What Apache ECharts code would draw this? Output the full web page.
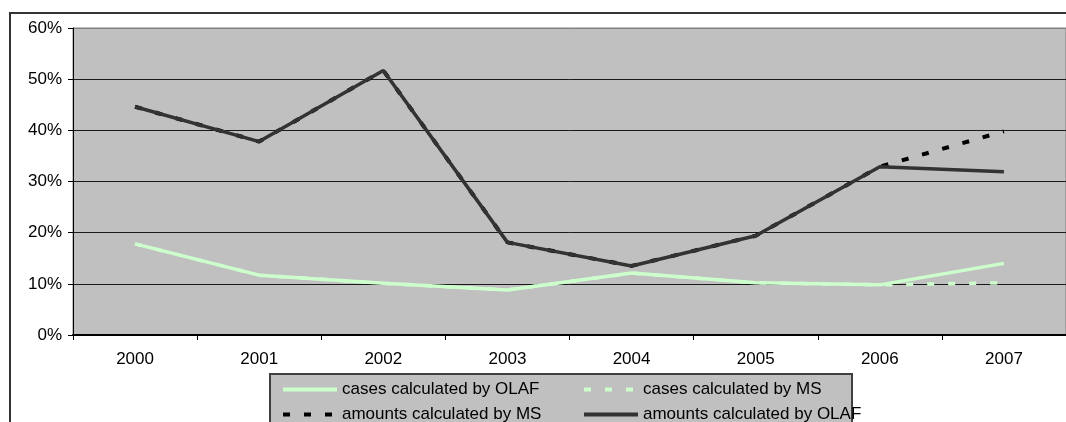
<!DOCTYPE html>
<html>
<head>
<meta charset="utf-8">
<script src="https://cdn.jsdelivr.net/npm/echarts@6/dist/echarts.min.js"></script>
<style>
  html, body { margin: 0; padding: 0; background: #fff; }
  #chart { width: 1066px; height: 422px; }
</style>
</head>
<body>
<div id="chart"></div>
<script>
const years = ['2000', '2001', '2002', '2003', '2004', '2005', '2006', '2007']
const casesOlaf = [17.8, 11.7, 10.1, 8.8, 12.1, 10.2, 9.8, 14.0]
const casesMs = [17.8, 11.7, 10.1, 8.8, 12.1, 10.2, 9.8, 10.2]
const amountsMs = [44.6, 37.8, 51.7, 18.1, 13.5, 19.4, 32.9, 39.8]
const amountsOlaf = [44.6, 37.8, 51.7, 18.1, 13.5, 19.4, 32.9, 31.9]

const font = "'Liberation Sans', Arial, sans-serif"
const chart = echarts.init(document.getElementById('chart'))

// two columns of the legend, laid out like the Excel legend table
const legendBase = {
  orient: 'vertical',
  top: 376,
  height: 60,
  itemWidth: 54,
  itemHeight: 14,
  itemGap: 8,
  z: 5,
  itemStyle: { opacity: 0 },
  lineStyle: { width: 4 },
  textStyle: { fontSize: 17, color: '#000', fontFamily: font }
}

const option = {
  animation: false,
  textStyle: { fontFamily: font },
  graphic: [
    {
      type: 'rect',
      shape: { x: 10, y: 13, width: 1100, height: 450 },
      style: { fill: 'none', stroke: '#333', lineWidth: 2 },
      z: -10
    },
    {
      type: 'rect',
      shape: { x: 270, y: 374, width: 582, height: 80 },
      style: { fill: '#c0c0c0', stroke: '#404040', lineWidth: 2 },
      z: 0
    }
  ],
  grid: {
    left: 73,
    top: 28,
    width: 997,
    height: 307,
    show: true,
    backgroundColor: '#c0c0c0',
    borderColor: '#808080',
    borderWidth: 1
  },
  legend: [
    Object.assign({}, legendBase, {
      data: ['cases calculated by OLAF', 'amounts calculated by MS'],
      left: 276
    }),
    Object.assign({}, legendBase, {
      data: ['cases calculated by MS', 'amounts calculated by OLAF'],
      left: 577
    })
  ],
  xAxis: {
    type: 'category',
    data: years,
    boundaryGap: true,
    axisLine: { lineStyle: { color: '#000', width: 2 } },
    axisTick: { show: true, length: 5, lineStyle: { color: '#000' } },
    axisLabel: { fontSize: 17, color: '#000', margin: 16, fontFamily: font },
    splitLine: { show: false }
  },
  yAxis: {
    type: 'value',
    min: 0,
    max: 60,
    interval: 10,
    axisLine: { show: true, lineStyle: { color: '#000', width: 1 } },
    axisTick: { show: true, length: 5, lineStyle: { color: '#000' } },
    axisLabel: { fontSize: 17, color: '#000', margin: 11, formatter: '{value}%', fontFamily: font },
    splitLine: {
      show: true,
      lineStyle: {
        color: ['#000', '#1a1a1a', '#1a1a1a', '#1a1a1a', '#1a1a1a', '#1a1a1a', '#808080'],
        width: 1
      }
    }
  },
  series: [
    {
      name: 'cases calculated by OLAF',
      type: 'line',
      data: casesOlaf,
      symbol: 'none',
      z: 3,
      lineStyle: { color: '#ccffcc', width: 3.5 },
      itemStyle: { color: '#ccffcc' }
    },
    {
      name: 'cases calculated by MS',
      type: 'line',
      data: casesMs,
      symbol: 'none',
      z: 2,
      lineStyle: { color: '#ccffcc', width: 3.5, type: [7, 14] },
      itemStyle: { color: '#ccffcc' }
    },
    {
      name: 'amounts calculated by MS',
      type: 'line',
      data: amountsMs,
      symbol: 'none',
      z: 2,
      lineStyle: { color: '#000', width: 4, type: [7, 14] },
      itemStyle: { color: '#000' }
    },
    {
      name: 'amounts calculated by OLAF',
      type: 'line',
      data: amountsOlaf,
      symbol: 'none',
      z: 3,
      lineStyle: { color: '#333333', width: 3.5 },
      itemStyle: { color: '#333333' }
    }
  ]
}

chart.setOption(option)
</script>
</body>
</html>
